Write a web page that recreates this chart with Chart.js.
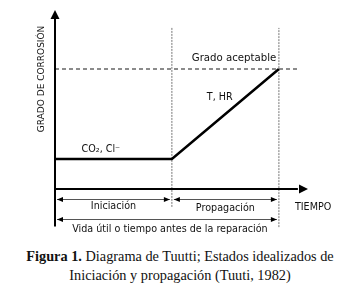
<!DOCTYPE html>
<html>
<head>
<meta charset="utf-8">
<script src="https://cdn.jsdelivr.net/npm/chart.js@4"></script>
<style>
    body { margin: 0; background: #fff; }
    #wrap { width: 360px; height: 240px; }
    .caption {
        font-family: "Liberation Serif", "Times New Roman", serif;
        font-size: 14.3px;
        color: #111;
        text-align: center;
        line-height: 19px;
        margin-top: 7px;
    }
</style>
</head>
<body>
<div id="wrap"><canvas id="chart" width="360" height="240"></canvas></div>
<div class="caption"><b>Figura 1.</b> Diagrama de Tuutti; Estados idealizados de<br>Iniciación y propagación (Tuuti, 1982)</div>

<script>
// time axis (arbitrary units): start, end of initiation, end of propagation
const tiempos = [0, 4.62, 8.85];
// corrosion level at those times
const corrosion = [1.68, 1.68, 6.7];
const gradoAceptable = 6.7;
const etiquetas = ["CO\u2082, Cl\u207B", "T, HR", "Grado aceptable"];
const fases = ["Iniciación", "Propagación", "Vida útil o tiempo antes de la reparación"];

const fontTxt = '9.6px "DejaVu Sans", sans-serif';

function arrowHead(ctx, x, y, dir, len, half) {
    // dir: 'up', 'right', 'left'
    ctx.beginPath();
    if (dir === 'up') {
        ctx.moveTo(x, y);
        ctx.lineTo(x - half, y + len);
        ctx.lineTo(x + half, y + len);
    } else if (dir === 'right') {
        ctx.moveTo(x, y);
        ctx.lineTo(x - len, y - half);
        ctx.lineTo(x - len, y + half);
    } else {
        ctx.moveTo(x, y);
        ctx.lineTo(x + len, y - half);
        ctx.lineTo(x + len, y + half);
    }
    ctx.closePath();
    ctx.fill();
}

const diagramPlugin = {
    id: 'diagram',
    afterDatasetsDraw(chart) {
        const ctx = chart.ctx;
        const xs = chart.scales.x, ys = chart.scales.y;
        const px = v => xs.getPixelForValue(v);
        const py = v => ys.getPixelForValue(v);
        ctx.save();
        ctx.fillStyle = '#000';
        ctx.strokeStyle = '#000';

        // y axis
        ctx.lineWidth = 2;
        ctx.beginPath();
        ctx.moveTo(px(0), py(-2.1));
        ctx.lineTo(px(0), py(9.6));
        ctx.stroke();
        arrowHead(ctx, px(0), py(10), 'up', 9, 4.5);

        // x axis
        ctx.beginPath();
        ctx.moveTo(px(0), py(0));
        ctx.lineTo(px(9.6), py(0));
        ctx.stroke();
        arrowHead(ctx, px(10), py(0), 'right', 9, 4.5);

        // dimension arrows
        ctx.lineWidth = 1;
        ctx.strokeStyle = '#555';
        const dims = [
            [tiempos[0], tiempos[1], -0.56],
            [tiempos[1], tiempos[2], -0.56],
            [tiempos[0], tiempos[2], -1.68]
        ];
        dims.forEach(d => {
            const x1 = px(d[0]) + 2, x2 = px(d[1]) - 2, y = Math.round(py(d[2])) + 0.5;
            ctx.beginPath();
            ctx.moveTo(x1, y);
            ctx.lineTo(x2, y);
            ctx.stroke();
            arrowHead(ctx, x1, y, 'left', 6, 2.5);
            arrowHead(ctx, x2, y, 'right', 6, 2.5);
        });

        // texts
        ctx.font = fontTxt;
        ctx.fillStyle = '#111';
        ctx.textBaseline = 'middle';
        ctx.textAlign = 'left';
        ctx.fillText(etiquetas[0], px(1.05), py(2.2));
        ctx.fillText(etiquetas[1], px(6.0), py(5.1));
        ctx.textAlign = 'right';
        ctx.font = '10.2px "DejaVu Sans", sans-serif';
        ctx.fillText(etiquetas[2], px(8.75), py(7.3));
        ctx.font = fontTxt;
        ctx.textAlign = 'center';
        ctx.fillText(fases[0], (px(tiempos[0]) + px(tiempos[1])) / 2, py(-1.0));
        ctx.fillText(fases[1], (px(tiempos[1]) + px(tiempos[2])) / 2, py(-1.08));
        ctx.fillText(fases[2], (px(tiempos[0]) + px(tiempos[2])) / 2 + 3, py(-2.24));
        ctx.fillText('TIEMPO', px(10.2), py(-1.05));

        // y title
        ctx.save();
        ctx.font = '9px "DejaVu Sans", sans-serif';
        ctx.translate(px(0) - 13, py(6.15));
        ctx.rotate(-Math.PI / 2);
        ctx.fillText('GRADO DE CORROSIÓN', 0, 0);
        ctx.restore();

        ctx.restore();
    }
};

new Chart(document.getElementById('chart'), {
    type: 'scatter',
    data: {
        datasets: [
            {
                data: tiempos.map((t, i) => ({ x: t, y: corrosion[i] })),
                showLine: true,
                borderColor: '#000',
                borderWidth: 2.5,
                pointRadius: 0
            },
            {
                data: [{ x: 0, y: gradoAceptable }, { x: 9.6, y: gradoAceptable }],
                showLine: true,
                borderColor: '#666',
                borderWidth: 1.5,
                borderDash: [4, 3],
                pointRadius: 0
            },
            {
                data: [{ x: tiempos[1], y: -1.0 }, { x: tiempos[1], y: 9.0 }],
                showLine: true,
                borderColor: '#777',
                borderWidth: 1,
                borderDash: [2, 1],
                pointRadius: 0
            },
            {
                data: [{ x: tiempos[2], y: -2.13 }, { x: tiempos[2], y: 9.0 }],
                showLine: true,
                borderColor: '#777',
                borderWidth: 1,
                borderDash: [2, 1],
                pointRadius: 0
            }
        ]
    },
    options: {
        responsive: false,
        animation: false,
        layout: { padding: { left: 55, right: 52, top: 10, bottom: 6.25 } },
        scales: {
            x: { type: 'linear', display: false, min: 0, max: 10 },
            y: { type: 'linear', display: false, min: -2.5, max: 10 }
        },
        plugins: {
            legend: { display: false },
            tooltip: { enabled: false }
        }
    },
    plugins: [diagramPlugin]
});
</script>
</body>
</html>
